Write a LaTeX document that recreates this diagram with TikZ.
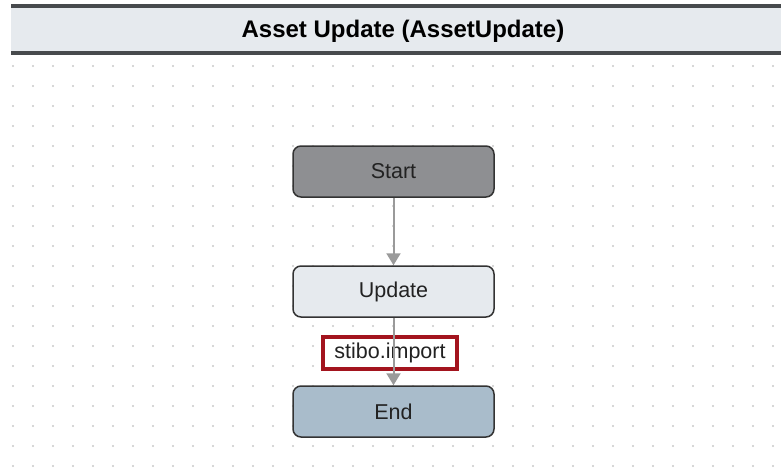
\documentclass[tikz,border=0pt]{standalone}
\usepackage{fontspec}
\setmainfont{Liberation Sans}
\usetikzlibrary{arrows.meta}

\definecolor{gristart}{HTML}{8E8F92}
\definecolor{grisclaro}{HTML}{E6EAEE}
\definecolor{azulfin}{HTML}{A9BCCB}
\definecolor{borde}{HTML}{333333}
\definecolor{flechagris}{HTML}{9A9A9A}
\definecolor{rojoetiqueta}{HTML}{A3141E}
\definecolor{puntos}{HTML}{C8C8C8}
\definecolor{cabecera}{HTML}{474A4D}
\definecolor{texto}{HTML}{222222}

\tikzset{
  paso/.style={draw=borde, line width=1.5pt, rounded corners=8pt,
    minimum width=201pt, minimum height=51pt, text=texto,
    font=\fontsize{21.5}{25}\selectfont},
  flecha/.style={draw=flechagris, line width=2pt,
    -{Triangle[width=14pt,length=12pt]}},
  etiqueta/.style={draw=rojoetiqueta, line width=4pt, fill=white,
    minimum width=134pt, minimum height=32pt, inner sep=2pt, text=texto,
    font=\fontsize{21.5}{25}\selectfont}
}

\begin{document}
\begin{tikzpicture}[x=1pt, y=-1pt]

 % marco de la imagen
 \useasboundingbox (0,0) rectangle (781,469);

 % --- CUADRICULA DE PUNTOS ---
 \foreach \i in {0,...,38}
   \foreach \j in {0,...,20}
     \fill[puntos] (13+20*\i,66+20*\j) circle (1.1pt);

 % --- CABECERA ---
 \fill[grisclaro] (11,6) rectangle (781,53);
 \draw[cabecera, line width=4pt] (11,6) -- (781,6);
 \draw[cabecera, line width=4pt] (11,53) -- (781,53);
 \node[font=\fontsize{24}{28}\selectfont\bfseries] (titulo) at (403,31) {Asset Update (AssetUpdate)};

 % --- PASOS DEL FLUJO ---
 \node[paso, fill=gristart] (start) at (393.5,171.5) {Start};
 \node[paso, fill=grisclaro] (update) at (393.5,291.5) {Update};
 \node[paso, fill=azulfin] (finish) at (393.5,411.5) {End};

 % etiqueta de la transicion (la linea pasa por encima)
 \node[etiqueta] (import) at (390,352.5) {stibo.import};

 % --- TRANSICIONES ---
 \draw[flecha] (start) -- (update);
 \draw[flecha] (update) -- (finish);

\end{tikzpicture}
\end{document}
